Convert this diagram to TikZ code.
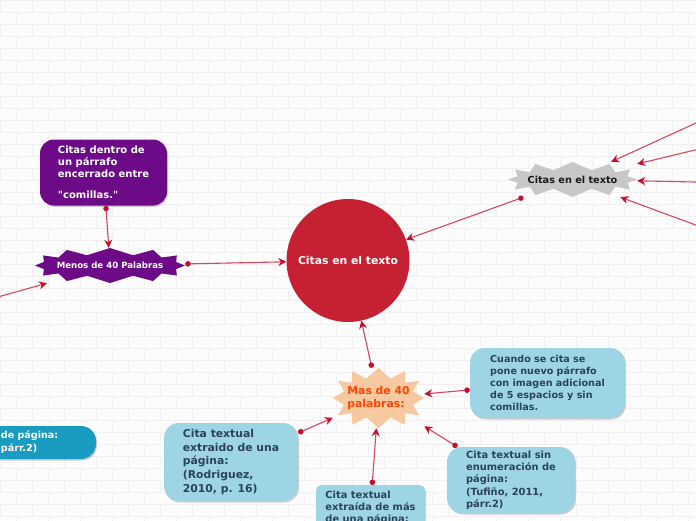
\documentclass[tikz,border=0pt]{standalone}
\usepackage{fontspec}
\setmainfont{DejaVu Sans}
\usetikzlibrary{arrows.meta,shadows}
\pgfdeclarelayer{bricks}
\pgfdeclarelayer{links}
\pgfsetlayers{bricks,links,main}
\font\plainq="DejaVu Sans/B" at 10pt

\definecolor{bgc}{HTML}{FCFCFC}
\definecolor{brickc}{HTML}{F0F0F0}
\definecolor{cred}{HTML}{C62033}
\definecolor{lnk}{HTML}{D9475A}
\definecolor{tipc}{HTML}{C8102E}
\definecolor{purp}{HTML}{6C0A87}
\definecolor{grayb}{HTML}{C8C8C8}
\definecolor{peach}{HTML}{F7C9A1}
\definecolor{orng}{HTML}{FF4500}
\definecolor{lblue}{HTML}{9DD5E4}
\definecolor{slate}{HTML}{2B4257}
\definecolor{tealb}{HTML}{1A9BC2}

% cx cy a b depth colour exponent
\newcommand{\burstfill}[7]{%
  \fill[#6] ({#1+#3},{#2}) \foreach \i in {1,...,23} {
     -- ({#1+(#3-#5*mod(\i,2))*cos(\i*15)*(abs(cos(\i*15))+0.0001)^(#7-1)},
         {#2-(#4-#5*mod(\i,2))*sin(\i*15)*(abs(sin(\i*15))+0.0001)^(#7-1)}) } -- cycle;}

\tikzset{
  link/.style={draw=lnk, line width=1.1pt,
    {Circle[length=5.5pt,color=tipc]}-{Stealth[length=8pt,width=8pt,inset=2.5pt,color=tipc]}},
  hid/.style={rectangle, inner sep=0pt},
  shad/.style={drop shadow={shadow xshift=1pt, shadow yshift=-1.5pt, opacity=0.3, fill=black!60}},
  lbox/.style={rectangle, rounded corners=15pt, fill=lblue, text=slate, align=left, inner sep=0pt, shad},
}

\begin{document}
\begin{tikzpicture}[x=1pt,y=-1pt]
\useasboundingbox (0,0) rectangle (696,520);

\begin{pgfonlayer}{bricks}
  \fill[bgc] (0,0) rectangle (696,520);
  \foreach \r in {0,...,43}{
    \draw[brickc, line width=0.6pt] (0,{12*\r}) -- (696,{12*\r});
    \pgfmathtruncatemacro\off{mod(\r,2)*16}
    \foreach \k in {0,...,22}{
      \draw[brickc, line width=0.6pt] ({\off+32*\k},{12*\r}) -- ++(0,12);
    }
  }
\end{pgfonlayer}

% central circle
\node[circle, fill=cred, minimum size=123pt, inner sep=0pt, text=white,
      font=\fontsize{10.8}{13}\selectfont\bfseries] (c) at (348,260.5) {Citas en el texto};

% Menos de 40 Palabras
\burstfill{110}{265.5}{75}{17.5}{7}{purp}{0.8}
\node[hid, minimum width=150pt, minimum height=35pt, text=white,
      font=\fontsize{8.6}{10}\selectfont\bfseries] (menos) at (110,265.5) {Menos de 40 Palabras};

% purple box
\node[rectangle, rounded corners=14pt, fill=purp, text=white, align=left, inner sep=0pt,
      minimum width=127pt, minimum height=66pt, shad,
      font=\fontsize{10}{11.7}\selectfont\bfseries] (pbox) at (103.5,172.5)
      {Citas dentro de\\un párrafo\\encerrado entre\\[10pt]{\plainq"}comillas.{\plainq"}};

% grey burst
\burstfill{572.5}{179.5}{64.5}{17.5}{8}{grayb}{0.8}
\node[hid, minimum width=129pt, minimum height=35pt, text=black!90,
      font=\fontsize{9.7}{12}\selectfont\bfseries] (gray) at (572.5,179.5) {Citas en el texto};

% peach burst
\burstfill{378.5}{398}{45.5}{30}{10}{peach}{0.8}
\node[hid, minimum width=91pt, minimum height=60pt, text=orng, align=left,
      font=\fontsize{10.8}{13}\selectfont\bfseries] (peachn) at (378.5,398) {Mas de 40\\palabras:};

% blue boxes
\node[lbox, minimum width=155pt, minimum height=70pt,
      font=\fontsize{9.6}{12}\selectfont\bfseries] (boxA) at (547.5,383)
      {Cuando se cita se\\pone nuevo párrafo\\con imagen adicional\\de 5 espacios y sin\\comillas.};
\node[lbox, minimum width=128pt, minimum height=66pt,
      font=\fontsize{9.9}{12.3}\selectfont\bfseries] (boxB) at (511,480)
      {Cita textual sin\\enumeración de\\página:\\(Tufiño, 2011,\\párr.2)};
\node[lbox, minimum width=134pt, minimum height=78pt,
      font=\fontsize{10.8}{13.7}\selectfont\bfseries] (boxC) at (231,462)
      {Cita textual\\extraido de una\\página:\\(Rodriguez,\\2010, p. 16)};
\node[lbox, rounded corners=5pt, anchor=north, minimum width=109pt, inner ysep=6pt,
      font=\fontsize{9.9}{12}\selectfont\bfseries] (boxD) at (370.5,485)
      {Cita textual\\extraída de más\\de una página:};

% teal box (cut by the left edge)
\node[rectangle, rounded corners=15pt, fill=tealb, text=white, align=left,
      text width=80pt, inner xsep=15pt, inner ysep=0pt, minimum height=33pt, shad,
      font=\fontsize{9.6}{13}\selectfont\bfseries] (teal) at (41,442.5)
      {de página:\\párr.2)};

% free ends off the picture
\coordinate (lfree) at (-20,302);
\coordinate (r1) at (720,112);
\coordinate (r2) at (720,144);
\coordinate (r3) at (720,182.5);
\coordinate (r4) at (720,234);

\begin{pgfonlayer}{links}
  \draw[link] (pbox) -- (menos);
  \draw[link] (menos) -- (c);
  \draw[link] (lfree) -- (menos);
  \draw[link] (gray) -- (c);
  \draw[link] (r1) -- (gray);
  \draw[link] (r2) -- (gray);
  \draw[link] (r3) -- (gray);
  \draw[link] (r4) -- (gray);
  \draw[link] (peachn) -- (c);
  \draw[link] (boxA) -- (peachn);
  \draw[link] (boxC) -- (peachn);
  \draw[link] (boxD) -- (peachn);
  \draw[link] (boxB) -- (peachn);
\end{pgfonlayer}
\end{tikzpicture}
\end{document}
